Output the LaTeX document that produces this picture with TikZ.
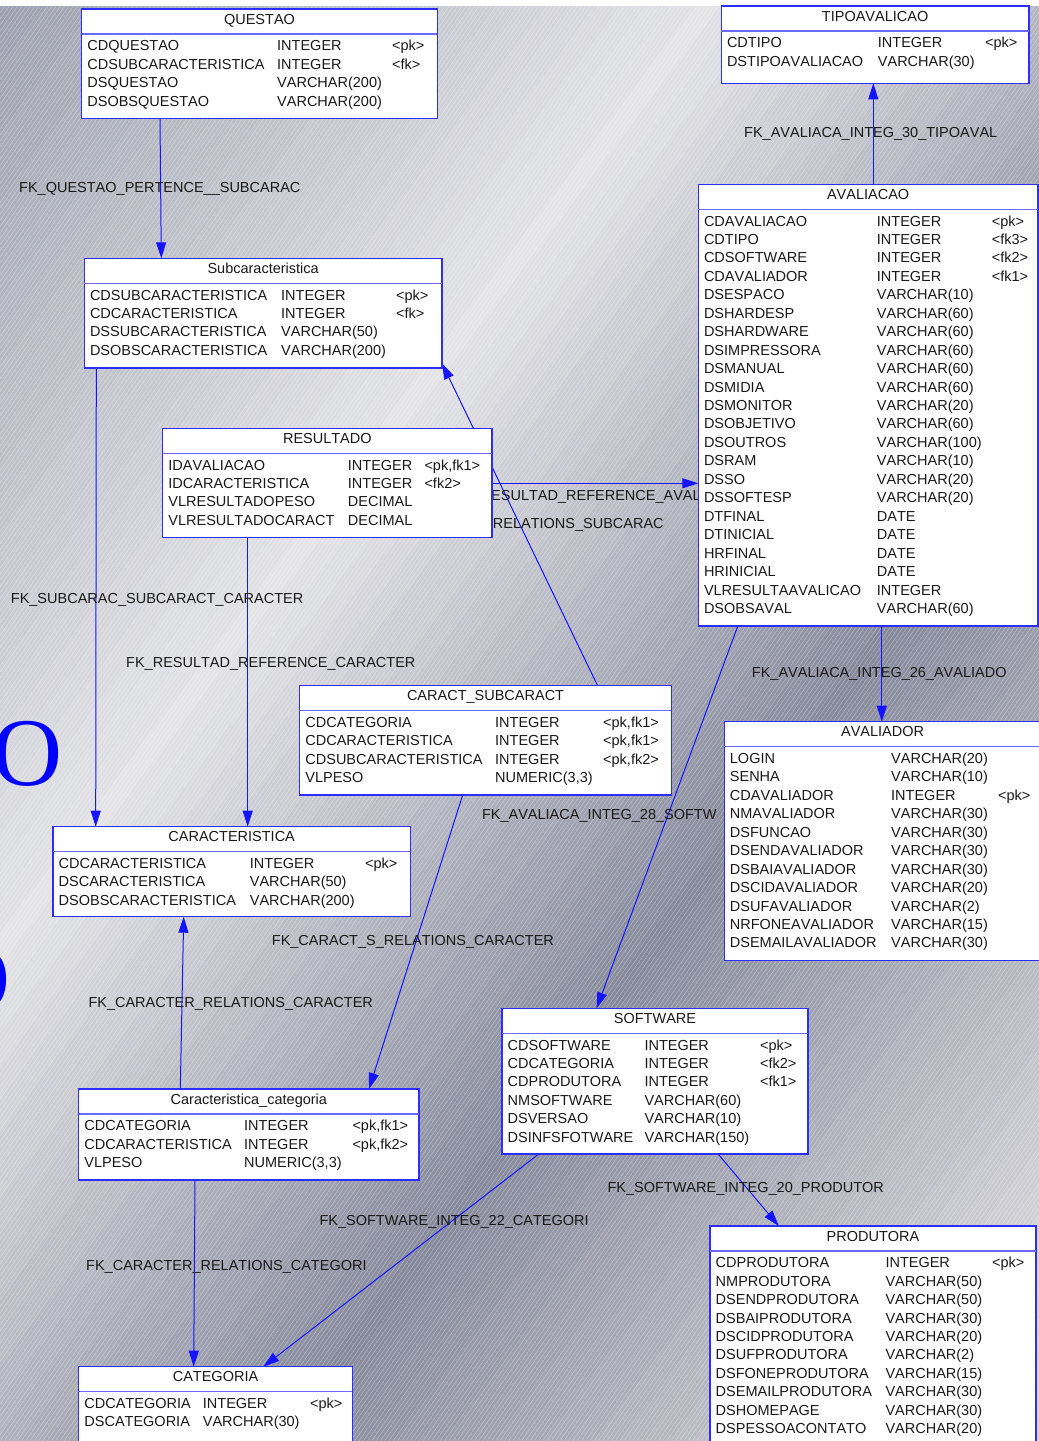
\documentclass[tikz,border=0pt]{standalone}
\usepackage{fontspec}
\setmainfont{Liberation Sans}[Kerning=Off]
\newfontfamily\glyphfont{Liberation Serif}
\usetikzlibrary{arrows.meta,patterns.meta}

\definecolor{boxblue}{RGB}{45,45,255}
\definecolor{sepblue}{RGB}{105,105,255}
\definecolor{linkblue}{RGB}{20,20,255}
\definecolor{inkgrey}{RGB}{25,25,25}
\definecolor{bgA}{RGB}{158,162,176}
\definecolor{bgB}{RGB}{228,228,231}
\definecolor{bgC}{RGB}{134,138,156}
\definecolor{bgD}{RGB}{212,212,216}

\pgfdeclarelayer{bg}
\pgfdeclarelayer{links}
\pgfsetlayers{bg,links,main}

\tikzset{
  tablebox/.style={draw=boxblue, fill=white, line width=1.4pt, anchor=north west, inner sep=0pt, outer sep=0pt},
  titlesep/.style={draw=sepblue, line width=1.4pt},
  tabletitle/.style={anchor=base, inner sep=0pt, text=inkgrey, font=\fontsize{14.5}{17}\selectfont},
  fieldtext/.style={anchor=base west, inner sep=0pt, text=inkgrey, font=\fontsize{14.5}{17}\selectfont},
  fklink/.style={draw=linkblue, line width=1pt, -{Triangle[length=16pt,width=10pt]}},
  fklabel/.style={anchor=base west, inner sep=0pt, text=inkgrey, font=\fontsize{14.5}{17}\selectfont},
  bigglyph/.style={anchor=east, inner sep=0pt, text=blue, font=\glyphfont\fontsize{97}{100}\selectfont}
}

% one table: name, left, top, right, bottom, title, type x, key x, fields
\newcommand{\ertable}[9]{%
  \node[tablebox, minimum width={(#4-#2)*1pt}, minimum height={(#5-#3)*1pt}] (#1) at (#2,#3) {};
  \draw[titlesep] (#2,#3+25) -- (#4,#3+25);
  \node[tabletitle] (#1-title) at ({(#2+#4)/2},#3+15.2) {#6};
  \foreach \fname/\ftype/\fkey [count=\i] in {#9} {
    \node[fieldtext] (#1-name\i) at (#2+5.5,{#3+41.7+18.45*(\i-1)}) {\fname};
    \node[fieldtext] (#1-type\i) at (#7,{#3+41.7+18.45*(\i-1)}) {\ftype};
    \node[fieldtext] (#1-key\i) at (#8,{#3+41.7+18.45*(\i-1)}) {\fkey};
  }
}

% one band of the grey background
\newcommand{\bgband}[2]{%
  \fill[#2] ({0.8*#1+1200},{0.6*#1-1600}) -- ({0.8*#1-1200},{0.6*#1+1600})
    -- ({0.8*(#1+21)-1200},{0.6*(#1+21)+1600}) -- ({0.8*(#1+21)+1200},{0.6*(#1+21)-1600}) -- cycle;}

\begin{document}
\begin{tikzpicture}[x=1pt, y=-1pt]
  \useasboundingbox (0,0) rectangle (1039,1441);

  % background
  \begin{pgfonlayer}{bg}
    \fill[white] (0,0) rectangle (1039,1441);
    \begin{scope}
      \clip (0,6) rectangle (1039,1441);
      \foreach \d in {0,20,...,540} {\pgfmathtruncatemacro\p{\d/5.6}\bgband{\d}{bgB!\p!bgA}}
      \foreach \d in {560,580,...,1060} {\pgfmathtruncatemacro\p{(\d-560)/5.2}\bgband{\d}{bgC!\p!bgB}}
      \foreach \d in {1080,1100,...,1540} {\pgfmathtruncatemacro\p{(\d-1080)/4.8}\bgband{\d}{bgD!\p!bgC}}
      \foreach \d in {1560,1580,...,1720} {\bgband{\d}{bgD}}
      \fill[pattern={Lines[angle=55,distance=3.5pt,line width=0.5pt]}, pattern color=white, opacity=0.35]
        (0,6) rectangle (1039,1441);
    \end{scope}
    \node[bigglyph] (glyph-a) at (63,753.5) {O};
    \node[bigglyph] (glyph-b) at (11,980) {O};
  \end{pgfonlayer}

  % tables
  \ertable{questao}{81.7}{9}{437.3}{118.7}{QUESTAO}{277}{392}{
    CDQUESTAO/INTEGER/<pk>, CDSUBCARACTERISTICA/INTEGER/<fk>,
    DSQUESTAO/VARCHAR(200)/{}, DSOBSQUESTAO/VARCHAR(200)/{}}
  \ertable{tipo}{721.3}{6}{1029}{83.3}{TIPOAVALICAO}{877.7}{985}{
    CDTIPO/INTEGER/<pk>, DSTIPOAVALIACAO/VARCHAR(30)/{}}
  \ertable{avaliacao}{698.3}{184.3}{1038}{626}{AVALIACAO}{876.7}{991.7}{
    CDAVALIACAO/INTEGER/<pk>, CDTIPO/INTEGER/<fk3>, CDSOFTWARE/INTEGER/<fk2>,
    CDAVALIADOR/INTEGER/<fk1>, DSESPACO/VARCHAR(10)/{}, DSHARDESP/VARCHAR(60)/{},
    DSHARDWARE/VARCHAR(60)/{}, DSIMPRESSORA/VARCHAR(60)/{}, DSMANUAL/VARCHAR(60)/{},
    DSMIDIA/VARCHAR(60)/{}, DSMONITOR/VARCHAR(20)/{}, DSOBJETIVO/VARCHAR(60)/{},
    DSOUTROS/VARCHAR(100)/{}, DSRAM/VARCHAR(10)/{}, DSSO/VARCHAR(20)/{},
    DSSOFTESP/VARCHAR(20)/{}, DTFINAL/DATE/{}, DTINICIAL/DATE/{}, HRFINAL/DATE/{},
    HRINICIAL/DATE/{}, VLRESULTAAVALICAO/INTEGER/{}, DSOBSAVAL/VARCHAR(60)/{}}
  \ertable{subcar}{84.3}{258.3}{442}{368}{Subcaracteristica}{281}{396}{
    CDSUBCARACTERISTICA/INTEGER/<pk>, CDCARACTERISTICA/INTEGER/<fk>,
    DSSUBCARACTERISTICA/VARCHAR(50)/{}, DSOBSCARACTERISTICA/VARCHAR(200)/{}}
  \ertable{resultado}{162.7}{428.3}{492}{537.7}{RESULTADO}{347.7}{424.3}{
    IDAVALIACAO/INTEGER/{<pk,fk1>}, IDCARACTERISTICA/INTEGER/<fk2>,
    VLRESULTADOPESO/DECIMAL/{}, VLRESULTADOCARACT/DECIMAL/{}}
  \ertable{caractsub}{299.7}{685.7}{671.4}{795}{CARACT\_SUBCARACT}{495}{603}{
    CDCATEGORIA/INTEGER/{<pk,fk1>}, CDCARACTERISTICA/INTEGER/{<pk,fk1>},
    CDSUBCARACTERISTICA/INTEGER/{<pk,fk2>}, VLPESO/{NUMERIC(3,3)}/{}}
  \ertable{caracteristica}{53}{826.7}{410.3}{916.7}{CARACTERISTICA}{249.7}{365}{
    CDCARACTERISTICA/INTEGER/<pk>, DSCARACTERISTICA/VARCHAR(50)/{},
    DSOBSCARACTERISTICA/VARCHAR(200)/{}}
  \ertable{avaliador}{724.2}{721.7}{1041}{960.7}{AVALIADOR}{891}{998}{
    LOGIN/VARCHAR(20)/{}, SENHA/VARCHAR(10)/{}, CDAVALIADOR/INTEGER/<pk>,
    NMAVALIADOR/VARCHAR(30)/{}, DSFUNCAO/VARCHAR(30)/{}, DSENDAVALIADOR/VARCHAR(30)/{},
    DSBAIAVALIADOR/VARCHAR(30)/{}, DSCIDAVALIADOR/VARCHAR(20)/{}, DSUFAVALIADOR/VARCHAR(2)/{},
    NRFONEAVALIADOR/VARCHAR(15)/{}, DSEMAILAVALIADOR/VARCHAR(30)/{}}
  \ertable{software}{502}{1008.3}{808}{1154}{SOFTWARE}{644.3}{759.9}{
    CDSOFTWARE/INTEGER/<pk>, CDCATEGORIA/INTEGER/<fk2>, CDPRODUTORA/INTEGER/<fk1>,
    NMSOFTWARE/VARCHAR(60)/{}, DSVERSAO/VARCHAR(10)/{}, DSINFSFOTWARE/VARCHAR(150)/{}}
  \ertable{carcat}{78.7}{1089}{419}{1180}{Caracteristica\_categoria}{244}{352.3}{
    CDCATEGORIA/INTEGER/{<pk,fk1>}, CDCARACTERISTICA/INTEGER/{<pk,fk2>},
    VLPESO/{NUMERIC(3,3)}/{}}
  \ertable{categoria}{78.7}{1366.7}{352.3}{1450}{CATEGORIA}{202.7}{310}{
    CDCATEGORIA/INTEGER/<pk>, DSCATEGORIA/VARCHAR(30)/{}}
  \ertable{produtora}{710}{1226}{1036}{1450}{PRODUTORA}{885.3}{992}{
    CDPRODUTORA/INTEGER/<pk>, NMPRODUTORA/VARCHAR(50)/{}, DSENDPRODUTORA/VARCHAR(50)/{},
    DSBAIPRODUTORA/VARCHAR(30)/{}, DSCIDPRODUTORA/VARCHAR(20)/{}, DSUFPRODUTORA/VARCHAR(2)/{},
    DSFONEPRODUTORA/VARCHAR(15)/{}, DSEMAILPRODUTORA/VARCHAR(30)/{}, DSHOMEPAGE/VARCHAR(30)/{},
    DSPESSOACONTATO/VARCHAR(20)/{}}

  % references, under the tables
  \begin{pgfonlayer}{links}
    \draw[fklink] (questao.south -| 160,0) -- (subcar.north -| 161.3,0);
    \draw[fklink] (avaliacao.north -| 873.3,0) -- (tipo.south -| 873.3,0);
    \draw[fklink] (subcar.south -| 96.3,0) -- (caracteristica.north -| 95.7,0);
    \draw[fklink] (resultado.south -| 247.7,0) -- (caracteristica.north -| 247.7,0);
    \draw[fklink] (resultado.east |- 0,483.3) -- (avaliacao.west |- 0,483.3);
    \draw[fklink] (caractsub.north -| 597.6,0) -- (subcar.east |- 0,363.3);
    \draw[fklink] (caractsub.south -| 462.7,0) -- (carcat.north -| 369,0);
    \draw[fklink] (carcat.north -| 180.3,0) -- (caracteristica.south -| 183.7,0);
    \draw[fklink] (carcat.south -| 195,0) -- (categoria.north -| 193.7,0);
    \draw[fklink] (software.south -| 538.8,0) -- (categoria.north -| 263.3,0);
    \draw[fklink] (software.south -| 718.1,0) -- (produtora.north -| 778.8,0);
    \draw[fklink] (avaliacao.south -| 737.8,0) -- (software.north -| 596.6,0);
    \draw[fklink] (avaliacao.south -| 881.8,0) -- (avaliador.north -| 881.8,0);

    \node[fklabel] (lbl-pertence) at (19,192.7) {FK\_QUESTAO\_PERTENCE\_\_SUBCARAC};
    \node[fklabel] (lbl-tipo) at (744,137.7) {FK\_AVALIACA\_INTEG\_30\_TIPOAVAL};
    \node[fklabel] (lbl-subcarac) at (10.7,603.3) {FK\_SUBCARAC\_SUBCARACT\_CARACTER};
    \node[fklabel] (lbl-rescar) at (126,667.3) {FK\_RESULTAD\_REFERENCE\_CARACTER};
    \node[fklabel] (lbl-resaval) at (491,500.7) {ESULTAD\_REFERENCE\_AVAL};
    \node[fklabel] (lbl-relsub) at (492.7,528.7) {RELATIONS\_SUBCARAC};
    \node[fklabel] (lbl-avaliador) at (751.7,677.7) {FK\_AVALIACA\_INTEG\_26\_AVALIADO};
    \node[fklabel] (lbl-software) at (481.8,819) {FK\_AVALIACA\_INTEG\_28\_SOFTW};
    \node[fklabel] (lbl-relcar) at (271.7,945.7) {FK\_CARACT\_S\_RELATIONS\_CARACTER};
    \node[fklabel] (lbl-carcar) at (88.3,1007.3) {FK\_CARACTER\_RELATIONS\_CARACTER};
    \node[fklabel] (lbl-produtor) at (607.3,1192.7) {FK\_SOFTWARE\_INTEG\_20\_PRODUTOR};
    \node[fklabel] (lbl-softcat) at (319.3,1225) {FK\_SOFTWARE\_INTEG\_22\_CATEGORI};
    \node[fklabel] (lbl-carcat) at (86,1270.7) {FK\_CARACTER\_RELATIONS\_CATEGORI};
  \end{pgfonlayer}
\end{tikzpicture}
\end{document}
